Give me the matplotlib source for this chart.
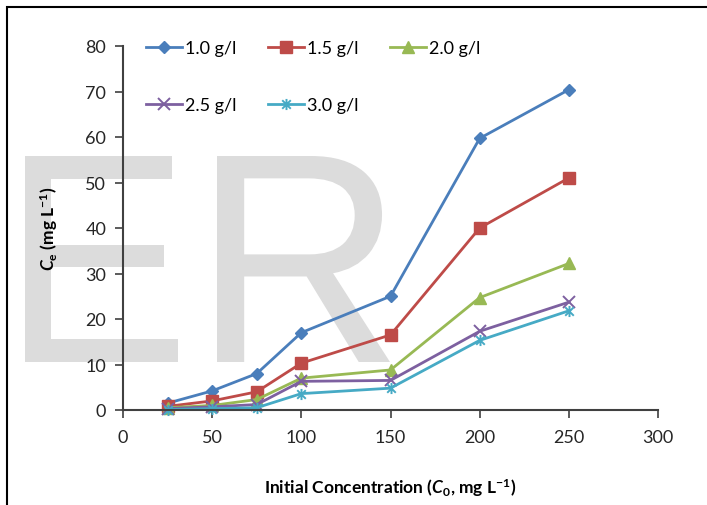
import matplotlib
matplotlib.use("Agg")
import matplotlib.pyplot as plt
from matplotlib.path import Path
from matplotlib.patches import Rectangle, PathPatch
from matplotlib.textpath import TextPath
from matplotlib.font_manager import FontProperties
from matplotlib.transforms import Affine2D, IdentityTransform

# Equilibrium concentration vs initial concentration for several adsorbent doses
c0 = [25, 50, 75, 100, 150, 200, 250]
ce_10 = [1.5, 4.2, 8.0, 17.0, 25.0, 59.7, 70.4]
ce_15 = [0.8, 2.0, 4.0, 10.3, 16.5, 40.0, 51.0]
ce_20 = [0.5, 1.0, 2.3, 7.0, 8.8, 24.7, 32.2]
ce_25 = [0.3, 0.7, 1.2, 6.3, 6.5, 17.3, 23.7]
ce_30 = [0.1, 0.3, 0.5, 3.6, 4.8, 15.3, 21.8]
labels = ["1.0 g/l", "1.5 g/l", "2.0 g/l", "2.5 g/l", "3.0 g/l"]

plt.rcParams["font.family"] = ["Lato", "DejaVu Sans"]
plt.rcParams["mathtext.fontset"] = "custom"
plt.rcParams["mathtext.rm"] = "Lato:bold"
plt.rcParams["mathtext.it"] = "Lato:italic:bold"
plt.rcParams["mathtext.bf"] = "Lato:bold"

# Excel-style asterisk marker (x with a vertical stroke)
asterisk = Path([(-1, -1), (1, 1), (-1, 1), (1, -1), (0, -1.3), (0, 1.3)],
                [Path.MOVETO, Path.LINETO, Path.MOVETO, Path.LINETO, Path.MOVETO, Path.LINETO])

W, H = 707, 506
fig = plt.figure(figsize=(W / 100, H / 100), dpi=100)

# frame around the figure
fig.patches.append(Rectangle((7 / W, -0.1), 1.2, 1 - 8 / H + 0.1, transform=fig.transFigure,
                             fill=False, edgecolor="black", linewidth=1.5, zorder=0))


def watermark_letter(ch, x0, x1, ytop, ybot):
    # glyph outline stretched into a pixel box (y measured from the top)
    tp = TextPath((0, 0), ch, size=100, prop=FontProperties(family="Liberation Sans"))
    ext = tp.get_extents()
    tr = (Affine2D().translate(-ext.x0, -ext.y0)
          .scale((x1 - x0) / ext.width, (ybot - ytop) / ext.height)
          .translate(x0, H - ybot))
    fig.patches.append(PathPatch(tr.transform_path(tp), transform=IdentityTransform(),
                                 facecolor="#dcdcdc", edgecolor="none", zorder=0))


watermark_letter("E", 25, 178, 157, 363)
watermark_letter("R", 217, 390, 157, 363)

ax = fig.add_axes([123 / W, 1 - 411 / H, (658 - 123) / W, (411 - 47) / H])
ax.set_zorder(2)
ax.patch.set_alpha(0)

series = [
    (ce_10, "#4a7ebb", dict(marker="D", ms=6.5)),
    (ce_15, "#be4b48", dict(marker="s", ms=8.5)),
    (ce_20, "#98b954", dict(marker="^", ms=8.5)),
    (ce_25, "#7d60a0", dict(marker="x", ms=8, mew=1.4)),
    (ce_30, "#46aac5", dict(marker=asterisk, ms=8, mew=1.4, mfc="none")),
]
handles = []
for (vals, col, mk), lab in zip(series, labels):
    h, = ax.plot(c0, vals, color=col, lw=2, label=lab, clip_on=False, **mk)
    handles.append(h)

ax.set_xlim(0, 300)
ax.set_ylim(0, 80)
ax.set_xticks(range(0, 301, 50))
ax.set_yticks(range(0, 81, 10))
ax.spines["top"].set_visible(False)
ax.spines["right"].set_visible(False)
for s in ("left", "bottom"):
    ax.spines[s].set_color("#404040")
    ax.spines[s].set_linewidth(1.5)
ax.tick_params(axis="both", direction="out", length=6, width=1.2, color="#404040",
               labelsize=13, labelcolor="#262626", pad=6)
ax.tick_params(axis="x", pad=8)

ax.set_ylabel(r"$C_\mathrm{e}$ (mg L$^{-1}$)", fontsize=12.5, fontweight="bold", labelpad=18)
ax.set_xlabel(r"Initial Concentration ($C_0$, mg L$^{-1}$)", fontsize=12.5,
              fontweight="bold", labelpad=22)

# legend filled row by row: 1.0, 1.5, 2.0 / 2.5, 3.0
order = [0, 3, 1, 4, 2]
ax.legend([handles[i] for i in order], [labels[i] for i in order],
          loc="upper left", bbox_to_anchor=(0.03, 1.035), ncol=3, frameon=False,
          fontsize=13, handlelength=2.0, handletextpad=0.15, columnspacing=1.75,
          labelspacing=2.25, borderaxespad=0)

fig.savefig("out.png", dpi=100)
